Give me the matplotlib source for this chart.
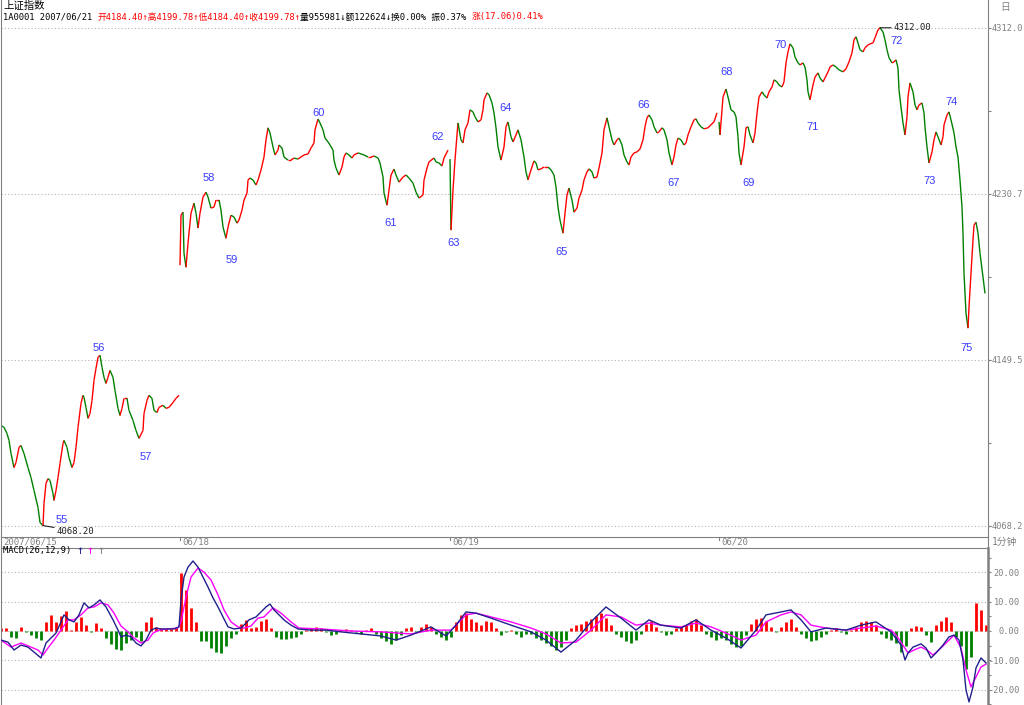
import matplotlib
matplotlib.use('Agg')
import matplotlib.pyplot as plt
import matplotlib.transforms as mtransforms
from matplotlib.collections import LineCollection
import numpy as np

plt.rcParams['font.family'] = ['DejaVu Sans Mono', 'Noto Sans CJK SC']

# ---- 1-minute closes, one list per trading day (x = bar number) ----
bar15 = [0,3,6,8,10,13,15,18,20,23, 27,30,33,37,39,42,43,45,47,49,
         52,53,55,57,59,62,63,66,68,71, 73,75,77,80,82,83,85,87,89,91,
         93,95,97,99,101,103,105,107,109,112, 114,117,119,121,123,126,128,132,135,138,
         142,143,146,148,151,153,156,158,162,165, 168,172,175,178]
px15 = [4117.2,4116.3,4113.3,4109.9,4103.5,4096.6,4099.1,4106.5,4107.4,4103.5,
        4096.6,4091.7,4085.4,4077.1,4069.7,4068.2,4079.0,4088.9,4091.2,4090.3,
        4083.9,4080.5,4085.4,4091.7,4098.6,4108.4,4109.9,4106.5,4101.5,4096.6,
        4099.1,4106.5,4116.3,4128.0,4132.0,4131.0,4126.1,4120.7,4123.1,4129.5,
        4139.3,4145.2,4150.6,4151.6,4145.7,4140.8,4137.8,4140.8,4144.2,4140.8,
        4134.4,4125.6,4122.1,4125.6,4130.5,4130.5,4124.6,4119.7,4114.8,4110.9,
        4114.8,4123.1,4129.5,4132.0,4130.5,4124.6,4123.6,4126.1,4127.1,4125.6,
        4126.1,4128.5,4130.5,4132.0]

bar18 = [179,180,182,183,185,187,190,193,195,197, 199,202,205,207,210,213,215,218,220,222,
         225,227,230,233,236,238,241,243,246,247, 249,252,255,257,260,263,265,267,269,272,
         274,277,278,281,283,287,290,293,297,300, 303,307,310,313,314,317,319,322,324,327,
         329,332,333,335,338,341,343,345,348,351, 353,357,360,363,367,370,373,377,379,382,
         383,386,388,390,393,395,398,402,405,408, 412,415,418,422,423,426,428,433,435,438,
         441,443,447]
px18 = [4195.7,4220.2,4221.7,4201.6,4194.7,4206.5,4221.2,4226.1,4221.2,4213.9,
        4221.2,4229.1,4231.5,4229.1,4223.7,4224.2,4227.6,4227.6,4222.7,4214.4,
        4208.9,4214.4,4220.2,4219.3,4216.3,4217.8,4222.7,4227.6,4231.0,4237.4,
        4238.4,4237.4,4235.0,4237.4,4242.3,4248.7,4257.1,4263.0,4260.5,4253.6,
        4249.7,4252.1,4254.6,4253.1,4248.7,4247.2,4247.2,4248.2,4247.7,4248.7,
        4249.7,4250.2,4253.1,4255.6,4262.0,4267.3,4265.4,4262.0,4258.0,4256.1,
        4254.6,4252.1,4247.2,4243.3,4239.9,4243.8,4248.7,4250.7,4249.7,4248.2,
        4249.7,4250.7,4250.2,4249.7,4248.7,4248.7,4249.2,4248.2,4245.8,4238.9,
        4231.0,4225.1,4232.5,4239.9,4242.8,4239.9,4236.4,4238.9,4239.9,4238.4,
        4235.9,4231.5,4228.6,4230.1,4237.4,4243.3,4246.3,4248.2,4246.3,4245.8,
        4244.3,4248.2,4252.1]

bar19 = [449,450,452,454,456,457,460,462,464,467, 469,472,474,477,480,482,483,486,488,491,
         493,495,497,500,503,505,507,510,512,515, 517,520,523,525,527,530,533,535,537,540,
         543,547,550,553,555,557,559,562,564,566, 568,571,573,576,578,581,583,586,588,591,
         593,596,598,601,603,606,608,611,613,616, 618,621,623,626,628,630,633,636,639,642,
         644,646,648,651,653,656,658,661,663,666, 668,671,673,675,677,680,683,685,687,690,
         693,695,697,700,703,707,710,713,716]
px19 = [4247.7,4212.9,4232.5,4247.2,4259.5,4265.4,4257.1,4255.6,4262.0,4265.4,
        4271.8,4270.8,4268.4,4265.9,4266.9,4271.8,4276.7,4280.1,4279.2,4275.2,
        4270.3,4263.0,4253.6,4247.2,4253.6,4263.5,4265.9,4258.6,4256.1,4259.5,
        4262.0,4257.1,4248.7,4241.4,4237.5,4242.4,4246.8,4245.8,4242.4,4242.9,
        4243.8,4243.8,4242.4,4239.9,4234.0,4224.2,4217.8,4211.4,4221.2,4230.1,
        4233.5,4227.6,4221.7,4223.7,4228.6,4232.5,4237.5,4241.4,4242.9,4241.4,
        4238.4,4238.9,4243.3,4250.7,4262.0,4267.9,4263.5,4257.1,4254.6,4257.1,
        4258.0,4254.6,4249.7,4246.3,4244.8,4248.7,4250.7,4251.2,4252.6,4257.1,
        4263.5,4267.9,4269.3,4266.9,4263.5,4260.5,4261.0,4263.0,4262.0,4257.1,
        4250.7,4244.8,4248.7,4254.6,4258.0,4257.1,4254.6,4255.6,4259.5,4263.5,
        4266.9,4267.4,4265.4,4263.5,4262.5,4263.0,4264.5,4265.9,4270.3]

bar20 = [718,719,721,722,725,727,730,733,735,737, 738,740,743,745,747,749,752,754,756,758,
         761,763,766,768,771,773,776,778,781,783, 785,787,789,792,794,797,799,802,804,806,
         807,809,812,814,817,819,822,824,827,829, 832,835,838,842,845,848,851,853,855,857,
         859,862,864,867,869,872,874,877,879,882, 884,886,888,891,893,895,897,898,900,902,
         904,906,907,909,912,914,916,918,921,923, 924,926,928,931,933,935,937,940,942,943,
         946,948,950,953,955,957,959,961,962,963, 965,967,968,970,972,973,975,977,979,982,
         984]
px20 = [4265.9,4259.5,4271.8,4278.1,4282.0,4278.1,4271.8,4270.8,4268.4,4258.6,
        4250.7,4244.8,4253.6,4263.0,4263.5,4259.5,4255.6,4260.5,4270.3,4278.1,
        4280.6,4279.1,4277.6,4280.6,4283.0,4286.5,4285.5,4284.0,4283.0,4285.5,
        4294.8,4300.2,4304.1,4302.2,4297.7,4294.8,4293.8,4294.8,4292.8,4286.5,
        4280.6,4276.7,4284.0,4287.9,4289.9,4287.4,4285.5,4287.4,4290.4,4292.8,
        4293.8,4292.8,4291.4,4290.4,4291.9,4295.3,4299.7,4306.1,4307.6,4304.6,
        4301.2,4300.2,4302.2,4303.6,4304.1,4304.6,4307.1,4311.0,4312.0,4310.0,
        4306.1,4301.2,4297.3,4294.8,4295.3,4296.3,4292.3,4281.6,4273.2,4265.4,
        4259.5,4268.4,4278.1,4285.0,4280.6,4274.2,4271.8,4274.2,4275.2,4270.3,
        4263.5,4253.6,4245.8,4251.2,4257.1,4261.0,4258.6,4254.6,4258.6,4264.4,
        4269.3,4270.8,4266.9,4260.5,4253.6,4248.7,4237.4,4224.2,4211.4,4191.8,
        4172.2,4164.9,4175.2,4191.8,4208.0,4215.3,4216.8,4211.4,4201.6,4189.9,
        4181.9]

day_start = [0, 179, 449, 718]
day_label = ['2007/06/15', '06/18', '06/19', '06/20']

# wave count labels
wave_no = list(range(55, 76))
wave_bar = [61,98,145,208,231,318,390,437,453,505,561,643,673,726,748,780,812,896,929,951,966]
wave_px = [4071.1,4155.0,4102.0,4238.4,4198.2,4270.3,4216.3,4258.5,4206.5,4272.7,4202.1,
           4274.2,4235.9,4290.4,4235.9,4303.6,4263.5,4305.6,4236.9,4275.7,4155.0]

price_levels = [4312.0, 4230.7, 4149.5, 4068.2]

# ---- MACD(26,12,9) ----
dif_bar = [0,7,13,20,27,33,40,45,50,55, 60,63,68,73,78,83,88,93,99,105,
           112,117,120,125,130,135,140,145,150,155, 160,167,173,178,180,183,187,192,197,202,
           207,212,217,222,227,233,240,245,248,255, 260,265,269,273,278,283,290,297,310,325,
           340,360,380,395,410,430,445,455,465,475, 490,510,530,545,560,575,590,605,620,635,
           648,660,680,695,710,725,740,755,765,780, 790,800,810,825,845,860,875,890,900,904,
           907,912,920,925,930,935,942,948,953,958, 962,965,968,972,975,980,985]
dif = [-3.1,-3.8,-6.5,-4.8,-5.5,-7.2,-9.2,-4.1,-2.4,-0.7,
       3.1,5.5,3.8,3.1,5.5,9.6,7.9,8.9,10.6,8.2,
       3.8,0.3,-2.0,-1.4,-2.0,-4.1,-5.1,-3.1,0.3,1.0,
       0.7,0.7,0.7,1.4,10.6,18.4,21.8,23.9,21.8,18.4,
       15.0,11.3,8.2,4.8,1.4,0.7,1.0,2.7,3.8,4.8,
       6.5,8.2,9.2,7.2,5.5,3.8,2.0,0.7,0.3,0.3,
       -0.3,-1.0,-1.7,-3.1,-1.4,1.4,-1.7,2.0,6.5,6.1,
       4.4,2.0,-0.3,-3.1,-7.2,-3.1,3.1,8.2,4.4,0.3,
       3.8,2.0,1.0,3.8,0.3,-2.4,-5.8,0.3,5.5,6.5,
       7.2,3.8,-0.3,1.0,0.3,2.0,3.1,-0.3,-4.8,-9.9,
       -7.5,-5.5,-4.4,-5.8,-9.2,-7.5,-4.8,-2.0,-1.4,-3.1,
       -9.9,-20.1,-24.2,-19.1,-12.6,-9.2,-10.9]

dea_bar = [0,10,20,30,37,42,47,53,60,67, 73,80,87,93,100,107,113,120,127,133,
           140,147,152,158,167,177,180,185,190,197, 203,210,217,223,230,237,243,250,257,263,
           272,280,290,298,320,350,380,410,430,450, 465,475,490,510,530,545,560,575,590,605,
           620,635,648,660,680,695,710,725,740,755, 765,780,790,800,810,825,845,860,875,890,
           895,900,907,913,920,926,932,940,948,953, 960,965,970,975,980,985]
dea = [-3.1,-5.5,-4.1,-5.5,-6.5,-8.2,-5.8,-3.1,0.3,3.8,
       3.8,5.5,7.9,8.2,9.6,8.9,6.1,1.7,-0.3,-2.4,
       -4.1,-3.1,-0.7,0.3,0.7,1.0,3.1,11.6,18.4,21.5,
       20.1,17.4,12.3,7.2,3.1,1.4,1.0,1.7,4.4,4.8,
       7.9,6.1,3.1,1.0,0.7,0.0,-0.3,-1.0,0.3,0.3,
       5.5,6.1,4.8,3.1,1.0,-1.0,-4.1,-3.8,0.3,5.5,
       4.8,2.0,2.7,2.0,1.4,2.7,1.4,-0.7,-3.1,-1.4,
       3.1,5.5,6.5,5.5,2.0,1.0,0.3,1.0,1.7,0.3,
       -1.4,-3.8,-7.5,-6.5,-5.5,-6.5,-8.2,-5.8,-3.1,-1.4,
       -5.8,-13.3,-19.1,-15.7,-12.3,-11.3]

hist_bar = list(range(0, 990, 5))
hist = [1.0,1.0,-2.0,-2.4,1.4,-0.5,-1.5,-2.5,-3.0,3.0,
        5.5,3.0,5.0,6.8,0.5,3.0,4.8,2.0,-0.5,2.7,
        1.0,-2.5,-4.5,-6.0,-6.5,-4.0,-3.0,-2.0,-3.5,3.0,
        4.8,1.5,1.0,0.8,0.8,1.0,19.8,14.0,8.0,3.0,
        -3.5,-3.5,-5.8,-7.0,-7.5,-5.0,-2.5,-1.0,2.5,3.8,
        1.0,1.5,3.5,4.0,1.0,-2.0,-2.7,-2.7,-2.5,-2.0,
        -1.0,0.5,1.0,1.5,1.0,-0.5,-1.5,-1.0,0.5,0.8,
        0.5,-0.5,-1.0,0.5,1.0,-1.0,-2.5,-3.5,-4.5,-3.0,
        -1.5,1.0,1.5,-0.5,1.5,2.5,1.5,-1.0,-2.0,-3.0,
        -2.0,3.0,5.5,6.0,4.0,3.0,2.0,3.5,3.0,1.0,
        -1.5,-0.5,0.5,-1.0,-2.0,-1.0,-1.0,-2.5,-3.0,-4.0,
        -5.0,-6.5,-5.5,-3.0,1.0,2.0,2.5,3.5,4.0,5.0,
        6.0,4.5,2.0,-1.0,-2.0,-3.5,-4.0,-3.0,-1.0,2.5,
        3.5,1.5,-0.5,-1.5,-1.0,1.0,1.5,2.0,3.5,4.0,
        2.0,-1.0,-2.0,-3.0,-2.5,-3.0,-4.5,-5.5,-5.0,-1.5,
        2.5,4.0,4.5,3.5,1.5,-0.5,1.5,3.0,4.0,1.5,
        -1.0,-2.5,-3.5,-3.0,-2.0,-1.0,0.5,1.0,-0.5,-1.0,
        0.5,1.5,3.0,3.5,3.0,2.0,-1.0,-2.5,-3.0,-4.0,
        -7.0,-5.0,1.0,1.7,1.5,-1.5,-3.8,2.0,3.5,4.8,
        3.0,-2.0,-5.0,-13.0,-9.0,9.5,7.0,2.0]
macd_levels = [20, 10, 0, -10, -20]

RED = '#ff0000'
GREEN = '#008000'
GRAY = '#808080'
W, H = 1024, 705

fig = plt.figure(figsize=(W / 100, H / 100), dpi=100)
fig.patch.set_facecolor('white')


def fx(p):
    return p / W


def fy(p):
    return 1 - p / H


# ---------------- price panel ----------------
ax = fig.add_axes([fx(1), fy(537), fx(987), 537 / H])
ax.set_xlim(0, 987)
ax.set_ylim(4062.6, 4325.6)

for lv in price_levels:
    ax.axhline(lv, color='#b4b4b4', lw=0.8, ls=(0, (1, 2)), zorder=0)

for b, p in [(bar15, px15), (bar18, px18), (bar19, px19), (bar20, px20)]:
    assert len(b) == len(p)
    pts = np.column_stack([b, p])
    segs = np.stack([pts[:-1], pts[1:]], axis=1)
    cols = [RED if d >= 0 else GREEN for d in np.diff(p)]
    ax.add_collection(LineCollection(segs, colors=cols, linewidths=1.0))

for n, b, p in zip(wave_no, wave_bar, wave_px):
    ax.text(b, p, str(n), color='#3a3aff', fontsize=8, family='Liberation Sans',
            ha='center', va='center')

# extreme value callouts
all_b = bar15 + bar18 + bar19 + bar20
all_p = px15 + px18 + px19 + px20
i_lo, i_hi = int(np.argmin(all_p)), int(np.argmax(all_p))
for i, dy in [(i_lo, -4), (i_hi, 0)]:
    ax.annotate(f'{all_p[i]:.2f}', xy=(all_b[i], all_p[i]), xytext=(10, dy),
                textcoords='offset points', ha='left', va='center', fontsize=6.5,
                color='#202020',
                arrowprops=dict(arrowstyle='-', color='#202020', lw=0.8,
                                shrinkA=0, shrinkB=0))

ax.set_xticks([])
ax.yaxis.tick_right()
ax.set_yticks(price_levels)
ax.set_yticklabels([f'{v:.1f}' for v in price_levels])
ax.set_yticks([price_levels[0] + (price_levels[1] - price_levels[0]) * k / 2
               for k in range(7)], minor=True)
ax.tick_params(axis='y', which='major', length=2.5, width=0.8, color=GRAY,
               labelcolor=GRAY, labelsize=6.2, pad=0)
ax.tick_params(axis='y', which='minor', length=2, width=0.8, color=GRAY)
ax.spines['top'].set_visible(False)
for s in ['left', 'right', 'bottom']:
    ax.spines[s].set_color(GRAY)
    ax.spines[s].set_linewidth(0.8)

# date strip
strip = mtransforms.blended_transform_factory(ax.transData, fig.transFigure)
for b, lab in zip(day_start, day_label):
    fig.text(b + 2, fy(542), lab, transform=strip, color=GRAY, fontsize=6.5,
             ha='left', va='center')
    if b > 0:
        fig.lines.append(plt.Line2D([b, b], [fy(537), fy(540)], transform=strip,
                                    color=GRAY, lw=0.8))
for xp in [1, 988]:
    fig.lines.append(plt.Line2D([fx(xp), fx(xp)], [fy(537), fy(548)],
                                transform=fig.transFigure, color=GRAY, lw=0.8))
fig.text(fx(992), fy(542), '1分钟', color=GRAY, fontsize=7, ha='left', va='center')

# ---------------- MACD panel ----------------
mx = fig.add_axes([fx(1), 0, fx(987), (H - 548) / H])
mx.set_xlim(0, 987)
mx.set_ylim(-25.26, 28.33)
for lv in macd_levels:
    mx.axhline(lv, color='#b4b4b4', lw=0.8, ls=(0, (1, 2)), zorder=0)

hcol = [RED if v >= 0 else GREEN for v in hist]
mx.vlines(hist_bar, 0, hist, colors=hcol, lw=2.0, zorder=2)
mx.plot(dea_bar, dea, color='#ff00ff', lw=1.0, zorder=3)
mx.plot(dif_bar, dif, color='#20208c', lw=1.0, zorder=4)

mx.set_xticks([])
mx.yaxis.tick_right()
mx.set_yticks(macd_levels)
mx.set_yticklabels([f'{v:.2f}' for v in macd_levels])
mx.set_yticks([-25, -15, -5, 5, 15, 25], minor=True)
mx.tick_params(axis='y', which='major', length=2.5, width=0.8, color=GRAY,
               labelcolor=GRAY, labelsize=6.2, pad=20.5)
mx.tick_params(axis='y', which='minor', length=2, width=0.8, color=GRAY)
for lab in mx.get_yticklabels():
    lab.set_horizontalalignment('right')
mx.spines['bottom'].set_visible(False)
for s in ['left', 'top']:
    mx.spines[s].set_color(GRAY)
    mx.spines[s].set_linewidth(0.8)
mx.spines['right'].set_color(GRAY)
mx.spines['right'].set_linewidth(1.8)

# ---------------- header texts ----------------
renderer = fig.canvas.get_renderer()


def chain(x_px, y_px, parts):
    x = x_px
    for s, c, size in parts:
        t = fig.text(fx(x), fy(y_px), s, color=c, fontsize=size, ha='left', va='center')
        x += t.get_window_extent(renderer=renderer).width


fig.text(fx(3), fy(6), '上证指数', color='black', fontsize=7.5, ha='left', va='center')
chain(3, 17, [('1A0001 2007/06/21 ', 'black', 6.3),
              ('开4184.40↑高4199.78↑低4184.40↑收4199.78↑', RED, 6.3),
              ('量955981↓额122624↓换0.00% 振0.37% ', 'black', 6.3),
              ('涨(17.06)0.41%', RED, 6.3)])
chain(3, 551, [('MACD(26,12,9) ', 'black', 6.3), ('↑', '#20208c', 8.5), (' ', 'black', 4),
               ('↑', '#ff00ff', 8.5), (' ', 'black', 4), ('↑', GRAY, 8.5)])
fig.text(fx(1005), fy(7), '日', color=GRAY, fontsize=7, ha='center', va='center')

fig.savefig('out.png', dpi=100, facecolor='white')
